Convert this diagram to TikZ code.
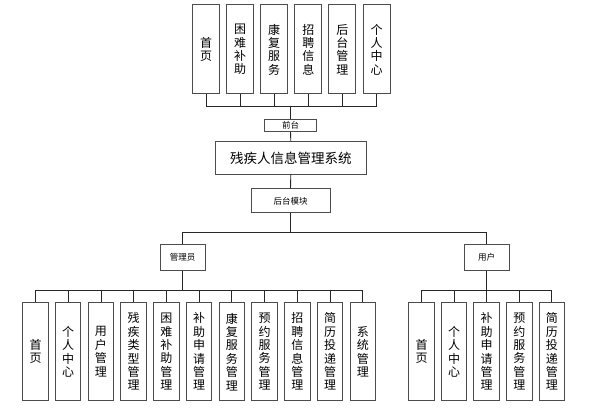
\documentclass[tikz,border=0pt]{standalone}
\usepackage{fontspec}
\setmainfont{Noto Sans CJK SC}
\usetikzlibrary{positioning}
\tikzset{
  topbox/.style={draw=black!70, line width=1pt, fill=white, minimum width=27pt,
    minimum height=89pt, inner sep=0pt, align=center,
    font=\fontsize{12}{13.4}\selectfont},
  leafbox/.style={topbox, minimum width=25.5pt, minimum height=98.5pt},
  tagbox/.style={draw=black!70, line width=1pt, fill=white, inner sep=0pt,
    font=\fontsize{8.5}{10}\selectfont},
  link/.style={draw=black!85, line width=0.9pt}
}
\begin{document}
\begin{tikzpicture}[x=1pt,y=-1pt]
  \useasboundingbox (0,0) rectangle (604,411);

  % front end modules
  \foreach \i/\txt in {0/{首\\页},1/{困\\难\\补\\助},2/{康\\复\\服\\务},
                       3/{招\\聘\\信\\息},4/{后\\台\\管\\理},5/{个\\人\\中\\心}}
  {
    \node[topbox] (t\i) at (206+34.1*\i,49.5) {\txt};
  }
  \node[tagbox, minimum width=52pt, minimum height=11.5pt] (qt) at (290.5,125.5) {前台};
  \node[draw=black!70, line width=1pt, fill=white, minimum width=151.5pt, minimum height=32.5pt,
    inner sep=0pt, font=\fontsize{13.5}{15}\selectfont] (sys) at (290.8,158) {残疾人信息管理系统};
  \node[tagbox, minimum width=79pt, minimum height=24pt] (hm) at (290.5,201) {后台模块};
  \node[tagbox, minimum width=45pt, minimum height=25pt] (adm) at (182.5,257.5) {管理员};
  \node[tagbox, minimum width=45pt, minimum height=25pt] (usr) at (486.7,257.5) {用户};

  \coordinate (fbus) at (290.5,106);
  \coordinate (mbus) at (290.5,232.7);
  \coordinate (abus) at (182.5,290.7);
  \coordinate (ubus) at (486.7,290.7);

  \foreach \i in {0,...,5}
    \draw[link] (t\i.south) |- (fbus);
  \draw[link] (fbus) -- (qt.north);
  \draw[link] (qt.south) -- (sys.north);
  \draw[link] (sys.south) -- (hm.north);
  \draw[link] (hm.south) -- (mbus);
  \draw[link] (adm.north) |- (mbus) -| (usr.north);

  % admin modules
  \foreach \i/\txt in {0/{首\\页},1/{个\\人\\中\\心},2/{用\\户\\管\\理},
                       3/{残\\疾\\类\\型\\管\\理},4/{困\\难\\补\\助\\管\\理},
                       5/{补\\助\\申\\请\\管\\理},6/{康\\复\\服\\务\\管\\理},
                       7/{预\\约\\服\\务\\管\\理},8/{招\\聘\\信\\息\\管\\理},
                       9/{简\\历\\投\\递\\管\\理},10/{系\\统\\管\\理}}
  {
    \node[leafbox] (a\i) at (35.5+32.73*\i,351.7) {\txt};
    \draw[link] (a\i.north) |- (abus);
  }
  \draw[link] (adm.south) -- (abus);

  % user modules
  \foreach \i/\txt in {0/{首\\页},1/{个\\人\\中\\心},2/{补\\助\\申\\请\\管\\理},
                       3/{预\\约\\服\\务\\管\\理},4/{简\\历\\投\\递\\管\\理}}
  {
    \node[leafbox] (u\i) at (421.5+32.6*\i,351.7) {\txt};
    \draw[link] (u\i.north) |- (ubus);
  }
  \draw[link] (usr.south) -- (ubus);
\end{tikzpicture}
\end{document}
